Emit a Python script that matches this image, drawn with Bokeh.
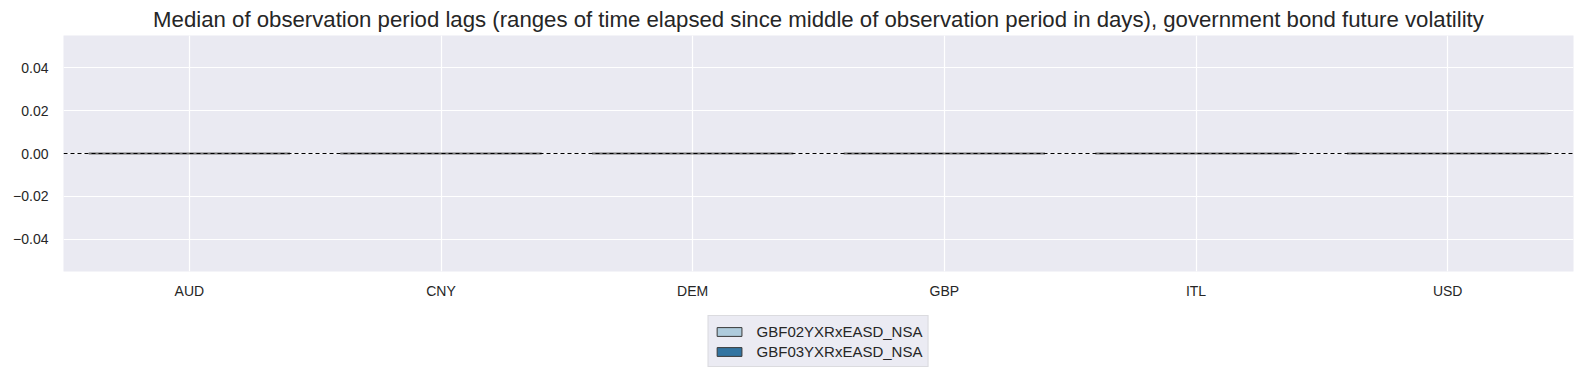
from bokeh.plotting import figure
from bokeh.layouts import column
from bokeh.models import FactorRange, Range1d, Span, Legend, LegendItem, FixedTicker, ColumnDataSource
from bokeh.transform import dodge
from bokeh.embed import file_html
from bokeh.resources import INLINE

categories = ["AUD", "CNY", "DEM", "GBP", "ITL", "USD"]
series_names = ["GBF02YXRxEASD_NSA", "GBF03YXRxEASD_NSA"]
gbf02_values = [0.0, 0.0, 0.0, 0.0, 0.0, 0.0]
gbf03_values = [0.0, 0.0, 0.0, 0.0, 0.0, 0.0]
y_ticks = [-0.04, -0.02, 0.0, 0.02, 0.04]
colors = ["#aecbdc", "#3274a1"]

FONT = "Liberation Sans"
BG = "#EAEAF2"
EDGE = "#3a3a3a"

src = ColumnDataSource(dict(cat=categories, s0=gbf02_values, s1=gbf03_values))

p = figure(width=1584, height=310, output_backend="svg", toolbar_location=None,
           x_range=FactorRange(*categories, range_padding=0),
           y_range=Range1d(-0.055, 0.055),
           title="Median of observation period lags (ranges of time elapsed since middle of observation period in days), government bond future volatility",
           min_border_left=63, min_border_right=11, min_border_top=35, min_border_bottom=39)

p.background_fill_color = BG
p.border_fill_color = "white"
p.outline_line_color = None
p.title.text_font = FONT
p.title.text_font_size = "22.2px"
p.title.text_font_style = "normal"
p.title.text_color = "#262626"
p.title.align = "center"
p.title.standoff = 7

for ax in (p.xaxis, p.yaxis):
    ax.axis_line_color = None
    ax.major_tick_line_color = None
    ax.minor_tick_line_color = None
    ax.major_tick_out = 0
    ax.major_tick_in = 0
    ax.major_label_text_font = FONT
    ax.major_label_text_font_size = "14px"
    ax.major_label_text_color = "#262626"
p.xaxis.major_label_standoff = 11
p.yaxis.major_label_standoff = 15
p.yaxis.ticker = FixedTicker(ticks=y_ticks)
p.yaxis.major_label_overrides = {t: ("%.2f" % t).replace("-", "\u2212") for t in y_ticks}

p.xgrid.grid_line_color = "white"
p.ygrid.grid_line_color = "white"
p.xgrid.grid_line_width = 1.2
p.ygrid.grid_line_width = 1.2

p.add_layout(Span(location=0, dimension="width", line_color="black", line_dash="4 3", line_width=1))

p.vbar(x=dodge("cat", -0.2, range=p.x_range), top="s0", bottom=0, width=0.4, source=src,
       fill_color=colors[0], line_color=EDGE, line_width=2, line_alpha=0.7)
p.vbar(x=dodge("cat", 0.2, range=p.x_range), top="s1", bottom=0, width=0.4, source=src,
       fill_color=colors[1], line_color=EDGE, line_width=2, line_alpha=0.7)

# legend strip below the chart
lf = figure(width=1584, height=63, output_backend="svg", toolbar_location=None,
            x_range=FactorRange(*categories, range_padding=0), y_range=Range1d(1, 2),
            x_axis_location=None, y_axis_location=None,
            min_border_left=63, min_border_right=11, min_border_top=0, min_border_bottom=0)
lf.background_fill_color = "white"
lf.border_fill_color = "white"
lf.outline_line_color = None
lf.grid.visible = False
l0 = lf.vbar(x=dodge("cat", -0.2, range=lf.x_range), top="s0", bottom=0, width=0.4, source=src,
             fill_color=colors[0], line_color=EDGE, line_width=1)
l1 = lf.vbar(x=dodge("cat", 0.2, range=lf.x_range), top="s1", bottom=0, width=0.4, source=src,
             fill_color=colors[1], line_color=EDGE, line_width=1)

legend = Legend(items=[LegendItem(label=series_names[0], renderers=[l0]),
                       LegendItem(label=series_names[1], renderers=[l1])],
                location="top_center", orientation="vertical")
legend.label_text_font = FONT
legend.label_text_font_size = "15px"
legend.label_text_color = "#262626"
legend.glyph_width = 31
legend.glyph_height = 11
legend.label_height = 20
legend.spacing = 0
legend.padding = 5
legend.label_standoff = 12
legend.background_fill_color = BG
legend.border_line_color = "#cccccc"
legend.margin = 5
lf.add_layout(legend, "center")

layout = column(p, lf, spacing=0)
open("out.html", "w").write(file_html(layout, INLINE))
